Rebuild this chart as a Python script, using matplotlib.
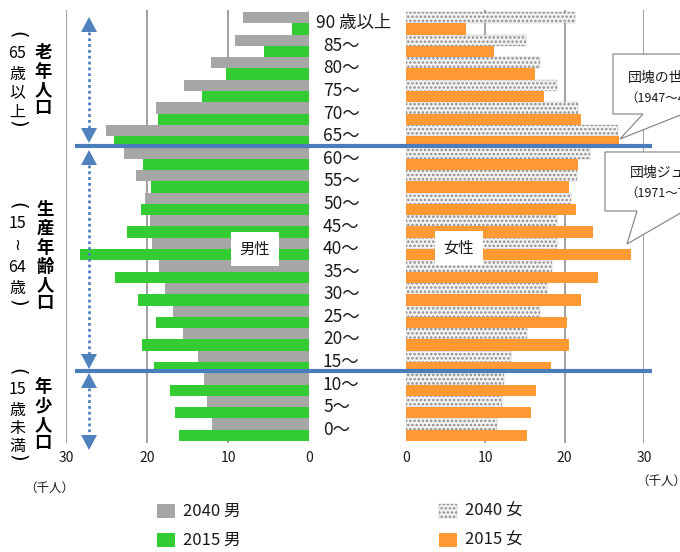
import matplotlib
matplotlib.use("Agg")
import matplotlib.pyplot as plt
import matplotlib.transforms as mtransforms
from matplotlib.patches import Polygon, Rectangle
from matplotlib.lines import Line2D
import numpy as np

plt.rcParams['font.family'] = ['Noto Sans CJK JP', 'DejaVu Sans']
plt.rcParams['hatch.linewidth'] = 1.2

# Age groups, youngest first (bottom of the pyramid)
ages = ["0～", "5～", "10～", "15～", "20～", "25～", "30～", "35～", "40～",
        "45～", "50～", "55～", "60～", "65～", "70～", "75～", "80～", "85～",
        "90 歳以上"]

# Population in thousands
male_2040 = [12.0, 12.6, 13.0, 13.7, 15.6, 16.8, 17.8, 18.5, 19.4, 19.6,
             20.2, 21.4, 22.8, 25.1, 18.9, 15.4, 12.1, 9.1, 8.1]
male_2015 = [16.1, 16.5, 17.2, 19.1, 20.6, 18.9, 21.1, 23.9, 28.3, 22.5,
             20.7, 19.5, 20.5, 24.1, 18.6, 13.2, 10.3, 5.5, 2.05]
female_2040 = [11.5, 12.1, 12.4, 13.2, 15.3, 16.9, 17.8, 18.4, 19.0, 19.0,
               20.8, 21.6, 23.2, 26.7, 21.7, 19.0, 16.9, 15.1, 21.3]
female_2015 = [15.3, 15.8, 16.4, 18.3, 20.5, 20.3, 22.0, 24.2, 28.4, 23.6,
               21.4, 20.6, 21.7, 26.9, 22.0, 17.4, 16.3, 11.1, 7.6]

x_ticks = [0, 10, 20, 30]

C_M40 = '#a6a6a6'
C_M15 = '#33cc33'
C_F15 = '#ff9933'
C_F40_FACE = '#f4f4f4'
C_F40_DOT = '#8c8c8c'
C_BLUE = '#4a7ebb'
C_GRID = '#868686'
TXT = '#1a1a1a'
F40_HATCH = '....'

W, H = 680, 552
fig = plt.figure(figsize=(W / 100, H / 100), dpi=100)

y = np.arange(len(ages))
ylim = (-0.59, 18.59)
ax_bottom = 1 - 443 / H
ax_height = 433 / H

axL = fig.add_axes([66 / W, ax_bottom, 243 / W, ax_height])
axR = fig.add_axes([406 / W, ax_bottom, 238 / W, ax_height])

# Male side (bars grow to the left)
axL.barh(y + 0.25, male_2040, height=0.5, color=C_M40, zorder=2)
axL.barh(y - 0.25, male_2015, height=0.5, color=C_M15, zorder=2)
axL.set_xlim(30, 0)

# Female side
axR.barh(y + 0.25, female_2040, height=0.5, color=C_F40_FACE,
         edgecolor=C_F40_DOT, linewidth=0.2, hatch=F40_HATCH, zorder=2)
axR.barh(y - 0.25, female_2015, height=0.5, color=C_F15, zorder=2)
axR.set_xlim(0, 30)

for ax in (axL, axR):
    ax.set_ylim(*ylim)
    ax.set_yticks([])
    ax.set_xticks(x_ticks)
    ax.set_xticklabels([str(t) for t in x_ticks], fontsize=10, color=TXT)
    ax.tick_params(axis='x', length=0, pad=6)
    for s in ax.spines.values():
        s.set_visible(False)
    ax.patch.set_alpha(0)
    for t in x_ticks[1:]:
        ax.axvline(t, color=C_GRID, lw=1.1, zorder=1)
axL.axvline(0, color='#d9d9d9', lw=2.2, zorder=1)

# Age labels between the two halves
lab_tr = mtransforms.blended_transform_factory(fig.transFigure, axL.transData)
for i, a in enumerate(ages):
    xpx = 316 if i == len(ages) - 1 else 323
    fig.text(xpx / W, y[i], a, transform=lab_tr, ha='left', va='center',
             fontsize=12.5, color=TXT)

# Boundaries between the three age bands
for yb in (12.5, 2.5):
    fig.add_artist(Line2D([75 / W, 652 / W], [yb + 0.08, yb + 0.08],
                          transform=lab_tr, color=C_BLUE, lw=3.0,
                          solid_capstyle='butt', zorder=10))

# Overlay in pixel units for annotations
ov = fig.add_axes([0, 0, 1, 1], zorder=20)
ov.set_xlim(0, W)
ov.set_ylim(H, 0)
ov.axis('off')
ov.patch.set_alpha(0)

AX_X = 89
ARR_C = '#4f81bd'


def double_arrow(top, bottom, head=15, half=8):
    ov.plot([AX_X, AX_X], [top + head, bottom - head], color=ARR_C, lw=2.0,
            ls=(0, (1, 1.1)))
    ov.add_patch(Polygon([(AX_X, top), (AX_X - half, top + head),
                          (AX_X + half, top + head)], closed=True,
                         color=ARR_C, lw=0))
    ov.add_patch(Polygon([(AX_X, bottom), (AX_X - half, bottom - head),
                          (AX_X + half, bottom - head)], closed=True,
                         color=ARR_C, lw=0))


double_arrow(17, 143)
double_arrow(150, 369)
double_arrow(373, 450)


def vcol(x, ys, chars, **kw):
    for yy, ch in zip(ys, chars):
        if ch in "()":
            # parentheses turned sideways, as in vertical writing
            ov.text(x, yy, ch, ha='center', va='center', color='black',
                    rotation=-90, rotation_mode='anchor',
                    family='DejaVu Sans', fontsize=14)
        else:
            ov.text(x, yy, ch, ha='center', va='center', color='black', **kw)


# Band titles
vcol(43, [53, 72, 90, 108], list("老年人口"), fontsize=12.5, fontweight='bold')
vcol(17, [35, 54, 75, 93, 112, 124], ["(", "65", "歳", "以", "上", ")"],
     fontsize=11.5)
vcol(45, [210, 229, 248, 267, 285, 303], list("生産年齢人口"), fontsize=12.5,
     fontweight='bold')
vcol(17, [206, 224, 246, 267, 288, 303], ["(", "15", "≀", "64", "歳", ")"],
     fontsize=11.5)
vcol(43, [387, 406, 425, 443], list("年少人口"), fontsize=12.5,
     fontweight='bold')
vcol(17, [372, 389, 410, 428, 446, 458], ["(", "15", "歳", "未", "満", ")"],
     fontsize=11.5)

# Sex labels
box = dict(boxstyle='square,pad=0.55', fc='white', ec='none')
ov.text(255, 249, "男性", ha='center', va='center', fontsize=11, color=TXT,
        bbox=box)
ov.text(459, 248, "女性", ha='center', va='center', fontsize=11, color=TXT,
        bbox=box)

# Callouts
ov.add_patch(Polygon([(613, 54), (780, 54), (780, 114), (683, 114),
                      (620, 139), (643, 114), (613, 114)], closed=True,
                     fc='white', ec='#7f7f7f', lw=0.8, clip_on=False))
ov.text(628, 78, "団塊の世代", ha='left', va='center', fontsize=10, color=TXT)
ov.text(625, 98, "（1947～49年生まれ）", ha='left', va='center', fontsize=9,
        color=TXT)
ov.add_patch(Polygon([(605, 152), (780, 152), (780, 211), (684, 211),
                      (627, 244), (637, 211), (605, 211)], closed=True,
                     fc='white', ec='#7f7f7f', lw=0.8, clip_on=False))
ov.text(630, 173, "団塊ジュニア", ha='left', va='center', fontsize=10,
        color=TXT)
ov.text(625, 193, "（1971～74年生まれ）", ha='left', va='center', fontsize=9,
        color=TXT)

# Units
ov.text(49, 488, "（千人）", ha='center', va='center', fontsize=9, color=TXT)
ov.text(636, 481, "（千人）", ha='left', va='center', fontsize=9, color=TXT)

# Legend
leg = [
    (157, 511, dict(fc=C_M40, ec='none'), "2040 男"),
    (157, 540, dict(fc=C_M15, ec='none'), "2015 男"),
    (439, 511, dict(fc=C_F40_FACE, ec=C_F40_DOT, lw=0.2, hatch=F40_HATCH),
     "2040 女"),
    (439, 540, dict(fc=C_F15, ec='none'), "2015 女"),
]
for lx, ly, style, txt in leg:
    ov.add_patch(Rectangle((lx, ly - 7), 18, 14, **style))
    ov.text(lx + 26, ly, txt, ha='left', va='center', fontsize=12,
            color=TXT)

fig.savefig("out.png", dpi=100)
